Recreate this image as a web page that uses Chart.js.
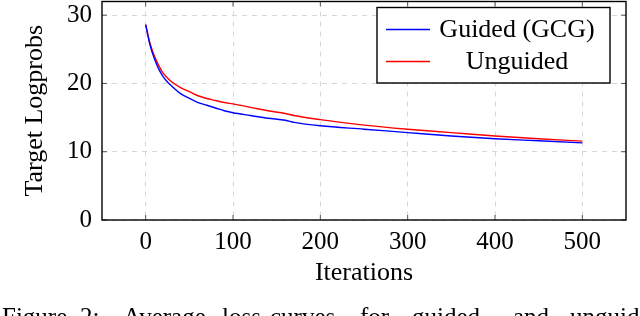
<!DOCTYPE html>
<html>
<head>
<meta charset="utf-8">
<script src="https://cdn.jsdelivr.net/npm/chart.js@4.4.1/dist/chart.umd.min.js"></script>
<style>
  html, body { margin: 0; padding: 0; background: #fff; overflow: hidden; }
  #wrap { position: relative; width: 640px; height: 316px; overflow: hidden; }
  #caption span {
    position: absolute; top: 304px; white-space: nowrap;
    font-family: "Liberation Serif", serif; font-size: 25px; line-height: 25px;
    color: #000;
  }
</style>
</head>
<body>
<div id="wrap">
  <canvas id="lossChart" width="640" height="316"></canvas>
  <div id="caption"></div>
</div>
<script>
// Data
const iterations = [0, 5, 10, 15, 20, 25, 30, 40, 50, 60, 70, 80, 90, 100, 120, 140, 160, 170, 200, 250, 300, 350, 400, 450, 500];
const guidedLoss = [28.6, 25.6, 23.6, 22.1, 21.0, 20.2, 19.6, 18.5, 17.8, 17.2, 16.8, 16.4, 16.0, 15.7, 15.3, 14.9, 14.6, 14.3, 13.8, 13.3, 12.8, 12.3, 11.9, 11.6, 11.3];
const unguidedLoss = [28.6, 25.9, 24.0, 22.6, 21.5, 20.8, 20.2, 19.4, 18.8, 18.2, 17.8, 17.5, 17.2, 17.0, 16.5, 16.0, 15.6, 15.3, 14.7, 13.9, 13.3, 12.8, 12.3, 11.9, 11.55];
const xTickValues = [0, 100, 200, 300, 400, 500];
const yTickValues = [0, 10, 20, 30];
const seriesLabels = ['Guided (GCG)', 'Unguided'];
const captionWords = ['Figure', '2:', 'Average', 'loss', 'curves', 'for', 'guided', 'and', 'unguided'];
const captionX = [2, 80, 123, 222, 270, 360, 412, 513, 570];

const serif = 'Liberation Serif';

// justified caption, cut off by the bottom of the picture
const cap = document.getElementById('caption');
captionWords.forEach((w, i) => {
    const s = document.createElement('span');
    s.textContent = w;
    s.style.left = captionX[i] + 'px';
    cap.appendChild(s);
});

function toPoints(ys) {
    return iterations.map((x, i) => ({ x: x, y: ys[i] }));
}

function noPadding(scale) {
    scale.paddingTop = 0;
    scale.paddingBottom = 0;
    scale.paddingLeft = 0;
    scale.paddingRight = 0;
}

// Frame, inner tick marks and boxed legend like pgfplots
const framePlugin = {
    id: 'frame',
    afterDatasetsDraw(chart) {
        const { ctx, chartArea: a, scales } = chart;
        ctx.save();
        ctx.strokeStyle = '#555';
        ctx.lineWidth = 1;
        const tl = 5;
        xTickValues.forEach(v => {
            const px = scales.x.getPixelForValue(v);
            ctx.beginPath();
            ctx.moveTo(px, a.bottom); ctx.lineTo(px, a.bottom - tl);
            ctx.moveTo(px, a.top); ctx.lineTo(px, a.top + tl);
            ctx.stroke();
        });
        yTickValues.forEach(v => {
            const py = scales.y.getPixelForValue(v);
            ctx.beginPath();
            ctx.moveTo(a.left, py); ctx.lineTo(a.left + tl, py);
            ctx.moveTo(a.right, py); ctx.lineTo(a.right - tl, py);
            ctx.stroke();
        });
        ctx.strokeStyle = '#000';
        ctx.lineWidth = 1.4;
        ctx.strokeRect(a.left, a.top, a.right - a.left, a.bottom - a.top);

        // legend box
        const box = { x: 377, y: 7.5, w: 233, h: 75.5 };
        ctx.fillStyle = '#fff';
        ctx.fillRect(box.x, box.y, box.w, box.h);
        ctx.strokeRect(box.x, box.y, box.w, box.h);
        ctx.font = '26px "' + serif + '"';
        ctx.textAlign = 'center';
        ctx.textBaseline = 'middle';
        const rows = [29.5, 61.5];
        chart.data.datasets.forEach((ds, i) => {
            ctx.strokeStyle = ds.borderColor;
            ctx.lineWidth = 1.4;
            ctx.beginPath();
            ctx.moveTo(386, rows[i]);
            ctx.lineTo(430, rows[i]);
            ctx.stroke();
            ctx.fillStyle = '#000';
            ctx.fillText(ds.label, 517, rows[i] + 1);
        });
        ctx.restore();
    }
};

const ctx = document.getElementById('lossChart').getContext('2d');
const lossChart = new Chart(ctx, {
    type: 'line',
    data: {
        datasets: [{
            label: seriesLabels[0],
            data: toPoints(guidedLoss),
            borderColor: '#0000ff',
            borderWidth: 1.4,
            pointRadius: 0,
            cubicInterpolationMode: 'monotone',
            fill: false,
        }, {
            label: seriesLabels[1],
            data: toPoints(unguidedLoss),
            borderColor: '#ff0000',
            borderWidth: 1.4,
            pointRadius: 0,
            cubicInterpolationMode: 'monotone',
            fill: false,
        }],
    },
    options: {
        responsive: false,
        animation: false,
        layout: { padding: { left: 0, top: 1.5, right: 14, bottom: 27 } },
        plugins: {
            legend: { display: false },
            tooltip: { enabled: false },
        },
        scales: {
            x: {
                type: 'linear',
                min: -50,
                max: 550,
                afterBuildTicks: (scale) => { scale.ticks = xTickValues.map(v => ({ value: v })); },
                afterFit: (scale) => { scale.height = 69; noPadding(scale); },
                grid: { color: '#d6d6d6', lineWidth: 1, drawTicks: false },
                border: { display: false, dash: [5, 5] },
                ticks: { color: '#000', padding: 7, maxRotation: 0, font: { family: serif, size: 25 } },
                title: { display: true, text: 'Iterations', color: '#000', padding: { top: 0, bottom: 0 }, font: { family: serif, size: 26 } },
            },
            y: {
                min: 0,
                max: 32,
                afterBuildTicks: (scale) => { scale.ticks = yTickValues.map(v => ({ value: v })); },
                afterFit: (scale) => { scale.width = 102; noPadding(scale); },
                grid: { color: '#d6d6d6', lineWidth: 1, drawTicks: false },
                border: { display: false, dash: [5, 5] },
                ticks: { color: '#000', padding: 10, font: { family: serif, size: 25 } },
                title: { display: true, text: 'Target Logprobs', color: '#000', padding: { top: 20, bottom: 0 }, font: { family: serif, size: 26 } },
            },
        },
    },
    plugins: [framePlugin],
});
</script>
</body>
</html>
